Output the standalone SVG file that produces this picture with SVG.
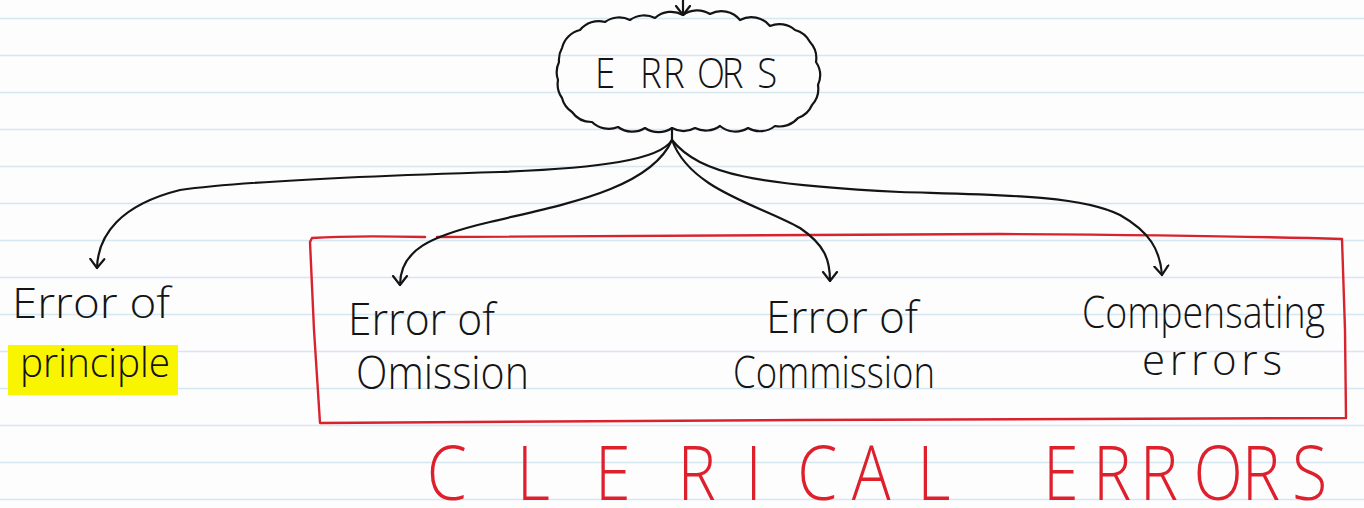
<svg xmlns="http://www.w3.org/2000/svg" width="1364" height="508" viewBox="0 0 1364 508">
  <style>
    .rule { stroke: #d5e8f1; stroke-width: 1.6; }
    .ink { fill: none; stroke: #141414; stroke-width: 2.2; stroke-linecap: round; stroke-linejoin: round; }
    .red { fill: none; stroke: #d8232f; stroke-width: 2.4; stroke-linecap: round; stroke-linejoin: round; }
    .hw { font-family: "Open Sans", "Liberation Sans", sans-serif; font-weight: 300; fill: #141414; }
    .hwred { font-family: "Open Sans", "Liberation Sans", sans-serif; font-weight: 300; fill: #de1f2c; }
  </style>
  <defs>
    <marker id="arrow" viewBox="0 0 20 20" refX="10" refY="10" markerWidth="20" markerHeight="20" markerUnits="userSpaceOnUse" orient="auto">
      <path d="M1,3 L10,10 L1,17" fill="none" stroke="#141414" stroke-width="2.2" stroke-linecap="round" stroke-linejoin="round"/>
    </marker>
  </defs>

  <rect width="1364" height="508" fill="#fdfdfe"/>
  <g id="paper-rules">
    <line class="rule" x1="0" y1="18.5" x2="1364" y2="18.5"/>
    <line class="rule" x1="0" y1="55.5" x2="1364" y2="55.5"/>
    <line class="rule" x1="0" y1="92.5" x2="1364" y2="92.5"/>
    <line class="rule" x1="0" y1="129.5" x2="1364" y2="129.5"/>
    <line class="rule" x1="0" y1="166.5" x2="1364" y2="166.5"/>
    <line class="rule" x1="0" y1="203.5" x2="1364" y2="203.5"/>
    <line class="rule" x1="0" y1="240.5" x2="1364" y2="240.5"/>
    <line class="rule" x1="0" y1="277.5" x2="1364" y2="277.5"/>
    <line class="rule" x1="0" y1="314.5" x2="1364" y2="314.5"/>
    <line class="rule" x1="0" y1="351.5" x2="1364" y2="351.5"/>
    <line class="rule" x1="0" y1="388.5" x2="1364" y2="388.5"/>
    <line class="rule" x1="0" y1="425.5" x2="1364" y2="425.5"/>
    <line class="rule" x1="0" y1="462.5" x2="1364" y2="462.5"/>
    <line class="rule" x1="0" y1="499.5" x2="1364" y2="499.5"/>
  </g>

  <g id="group-clerical">
    <rect x="8" y="345" width="170" height="50" fill="#f9f500"/>
    <path class="red" d="M425,237 C380,236 340,236 312,238 L310,242 L314,330 L320,423 C450,423 600,421 800,420 C1000,418 1200,420 1346,418 L1345,330 L1342,239 C1280,237 1150,235 1000,234 C800,234 600,236 437,237"/>
    <text class="hwred" font-size="76" transform="scale(0.85,1)" y="500" x="502 608 700 797 877 938 1002 1079 1227 1286 1341 1404 1461 1520">CLERICALERRORS</text>
  </g>

  <g id="connectors">
    <path class="ink" d="M683,0 L683,15" marker-end="url(#arrow)"/>
    <path class="ink" d="M672,128 L672,140"/>
    <path class="ink" d="M672,140 C660,160 600,168 500,172 C400,175 250,180 180,190 C120,205 98,235 97,268" marker-end="url(#arrow)"/>
    <path class="ink" d="M672,140 C650,190 560,205 490,222 C430,236 400,250 400,285" marker-end="url(#arrow)"/>
    <path class="ink" d="M672,140 C690,190 760,205 800,228 C825,245 830,260 830,281" marker-end="url(#arrow)"/>
    <path class="ink" d="M672,140 C700,175 760,185 900,192 C1000,195 1080,195 1120,215 C1150,232 1160,250 1162,275" marker-end="url(#arrow)"/>
  </g>

  <g id="node-errors">
    <path class="ink" d="M562,48 A24,24 0 0 1 580,30 A24,24 0 0 1 605,22 A24,24 0 0 1 630,20 A24,24 0 0 1 655,18 A24,24 0 0 1 683,15 A24,24 0 0 1 710,14 A24,24 0 0 1 740,20 A24,24 0 0 1 770,26 A24,24 0 0 1 795,30 A24,24 0 0 1 810,42 A24,24 0 0 1 816,62 A24,24 0 0 1 818,85 A24,24 0 0 1 812,105 A24,24 0 0 1 798,118 A24,24 0 0 1 775,126 A24,24 0 0 1 748,128 A24,24 0 0 1 720,126 A24,24 0 0 1 695,128 A24,24 0 0 1 672,128 A24,24 0 0 1 645,128 A24,24 0 0 1 618,127 A24,24 0 0 1 592,122 A24,24 0 0 1 572,112 A24,24 0 0 1 562,98 A24,24 0 0 1 558,80 A24,24 0 0 1 559,62 A24,24 0 0 1 562,48 Z" fill="#ffffff"/>
    <text class="hw" font-size="43" font-weight="400" transform="scale(0.85,1)" y="88" x="700 753 780 820 849 891">ERRORS</text>
  </g>

  <g id="node-principle">
    <text class="hw" font-size="42" x="12" y="318" textLength="158" lengthAdjust="spacingAndGlyphs">Error of</text>
    <text class="hw" font-size="40" x="20" y="377" textLength="150" lengthAdjust="spacingAndGlyphs">principle</text>
  </g>

  <g id="node-omission">
    <text class="hw" font-size="44" x="348" y="335" textLength="147" lengthAdjust="spacingAndGlyphs">Error of</text>
    <text class="hw" font-size="46" x="356" y="389" textLength="173" lengthAdjust="spacingAndGlyphs">Omission</text>
  </g>

  <g id="node-commission">
    <text class="hw" font-size="44" x="766" y="333" textLength="152" lengthAdjust="spacingAndGlyphs">Error of</text>
    <text class="hw" font-size="44" x="733" y="388" textLength="202" lengthAdjust="spacingAndGlyphs">Commission</text>
  </g>

  <g id="node-compensating">
    <text class="hw" font-size="44" x="1082" y="328" textLength="243" lengthAdjust="spacingAndGlyphs">Compensating</text>
    <text class="hw" font-size="42" x="1142" y="375" textLength="140" lengthAdjust="spacing">errors</text>
  </g>
</svg>
